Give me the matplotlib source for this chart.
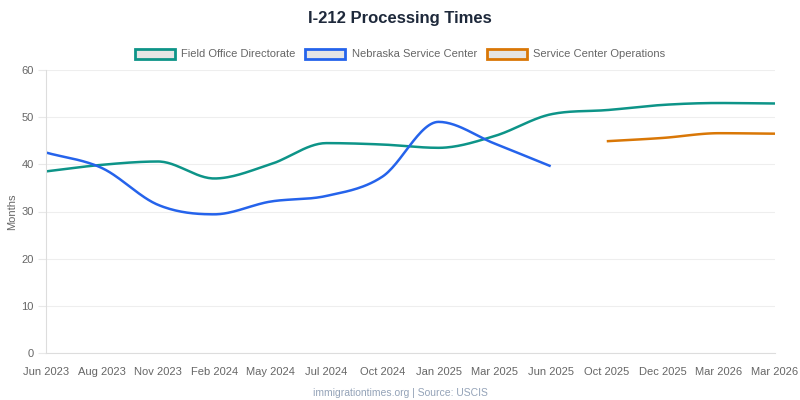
import numpy as np
import matplotlib.pyplot as plt
from matplotlib.patches import Patch

plt.rcParams['font.family'] = ['Liberation Sans', 'DejaVu Sans']

labels = ['Jun 2023', 'Aug 2023', 'Nov 2023', 'Feb 2024', 'May 2024', 'Jul 2024',
          'Oct 2024', 'Jan 2025', 'Mar 2025', 'Jun 2025', 'Oct 2025', 'Dec 2025',
          'Mar 2026', 'Mar 2026']

field_office = [38.5, 39.9, 40.6, 37.0, 40.0, 44.5, 44.2, 43.5, 46.0, 50.6, 51.5, 52.6, 53.0, 52.9]
nebraska = [42.5, 39.2, 31.4, 29.4, 32.1, 33.3, 37.4, 49.0, 44.4, 39.6, None, None, None, None]
sc_ops = [None, None, None, None, None, None, None, None, None, None, 44.9, 45.6, 46.6, 46.5]

series = [
    ('Field Office Directorate', field_office, '#0d9488'),
    ('Nebraska Service Center', nebraska, '#2563eb'),
    ('Service Center Operations', sc_ops, '#d97706'),
]


def monotone(x, y, n=30):
    # Fritsch-Carlson monotone cubic, like chart.js cubicInterpolationMode 'monotone'
    x = np.asarray(x, float)
    y = np.asarray(y, float)
    h = np.diff(x)
    d = np.diff(y) / h
    m = np.zeros_like(y)
    m[0], m[-1] = d[0], d[-1]
    for i in range(1, len(y) - 1):
        if d[i - 1] * d[i] <= 0:
            m[i] = 0
        else:
            m[i] = (d[i - 1] + d[i]) / 2
    for i in range(len(d)):
        if d[i] == 0:
            m[i] = m[i + 1] = 0
            continue
        a, b = m[i] / d[i], m[i + 1] / d[i]
        s = a * a + b * b
        if s > 9:
            t = 3 / np.sqrt(s)
            m[i], m[i + 1] = t * a * d[i], t * b * d[i]
    xs, ys = [], []
    for i in range(len(d)):
        t = np.linspace(0, 1, n)
        h00 = 2 * t**3 - 3 * t**2 + 1
        h10 = t**3 - 2 * t**2 + t
        h01 = -2 * t**3 + 3 * t**2
        h11 = t**3 - t**2
        xs.append(x[i] + t * h[i])
        ys.append(h00 * y[i] + h10 * h[i] * m[i] + h01 * y[i + 1] + h11 * h[i] * m[i + 1])
    return np.concatenate(xs), np.concatenate(ys)


fig = plt.figure(figsize=(8, 4), dpi=100)
ax = fig.add_axes([46 / 800, 1 - 353 / 400, (775 - 46) / 800, (353 - 70) / 400])

for name, vals, col in series:
    idx = [i for i, v in enumerate(vals) if v is not None]
    yv = [vals[i] for i in idx]
    sx, sy = monotone(idx, yv)
    ax.plot(sx, sy, color=col, lw=1.8, solid_capstyle='butt')

ax.set_xlim(0, len(labels) - 1)
ax.set_ylim(0, 60)
ax.set_yticks(range(0, 61, 10))
ax.set_xticks(range(len(labels)))
ax.set_xticklabels(labels)
ax.tick_params(axis='x', labelsize=8, colors='#666666', length=0, pad=10)
ax.tick_params(axis='y', labelsize=8, labelcolor='#666666', length=6, color='#e8e8e8', pad=3)
ax.grid(axis='y', color='#eeeeee', lw=0.8)
ax.set_axisbelow(True)
for s in ['top', 'right']:
    ax.spines[s].set_visible(False)
ax.spines['left'].set_color('#dddddd')
ax.spines['bottom'].set_color('#dddddd')
ax.set_ylabel('Months', fontsize=8, color='#666666', labelpad=3)

fig.text(0.5, 1 - 19 / 400, 'I-212 Processing Times', ha='center', va='center',
         fontsize=12, fontweight='bold', color='#1e293b')

handles = [Patch(facecolor='#e5e5e5', edgecolor=c, lw=2, label=n) for n, _, c in series]
fig.legend(handles=handles, loc='center', bbox_to_anchor=(0.5, 1 - 54 / 400), ncol=3,
           frameon=False, fontsize=8, labelcolor='#666666', handlelength=3.6,
           handleheight=1.0, columnspacing=0.9, handletextpad=0.55)

fig.text(0.5, 1 - 393 / 400, 'immigrationtimes.org | Source: USCIS', ha='center', va='center',
         fontsize=7.5, color='#94a3b8')

fig.savefig('out.png', dpi=100)
